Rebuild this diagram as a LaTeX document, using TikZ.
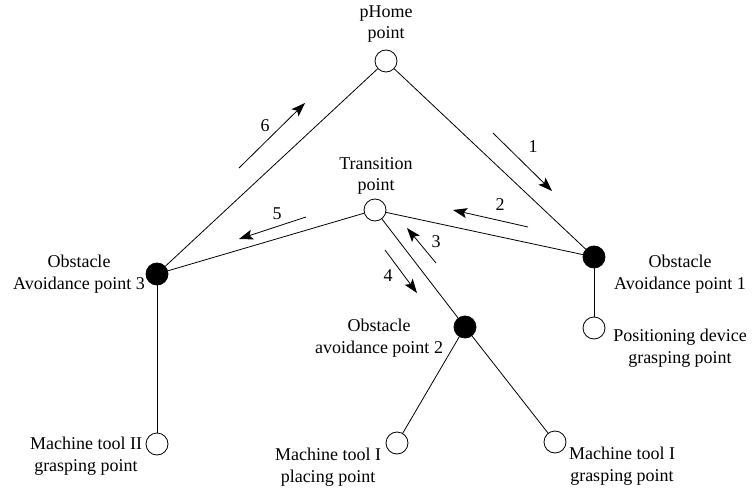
\documentclass[tikz,border=0pt]{standalone}
\usepackage{fontspec}
\setmainfont{Liberation Serif}
\usetikzlibrary{arrows.meta}

\begin{document}
\begin{tikzpicture}[x=1pt,y=-1pt,line width=0.8pt,
  pnt/.style={circle,draw,fill=white,minimum size=22pt,inner sep=0pt},
  obs/.style={pnt,fill=black},
  lbl/.style={align=center,font=\fontsize{18}{21.5}\selectfont},
  num/.style={font=\fontsize{18}{21.5}\selectfont},
  mv/.style={-{Stealth[length=14pt,width=10pt,inset=3pt]}}]
\useasboundingbox (0,0) rectangle (755,495);
% points
\node[pnt] (home) at (386,61) {};
\node[pnt] (trans) at (375,210) {};
\node[obs] (oa1) at (594,257) {};
\node[obs] (oa2) at (465,327) {};
\node[obs] (oa3) at (157,274) {};
\node[pnt] (posg) at (594,328) {};
\node[pnt] (mt2g) at (157,444) {};
\node[pnt] (mt1p) at (397,443) {};
\node[pnt] (mt1g) at (555,442) {};
% paths
\draw (home) -- (oa3);
\draw (home) -- (oa1);
\draw (trans) -- (oa3);
\draw (trans) -- (oa1);
\draw (trans) -- (oa2);
\draw (oa1) -- (posg);
\draw (oa3) -- (mt2g);
\draw (oa2) -- (mt1p);
\draw (oa2) -- (mt1g);
% labels
\node[lbl] (homel) at (386,24) {pHome\\point};
\node[lbl] (transl) at (376,176) {Transition\\point};
\node[lbl] (oa1l) at (680,274) {Obstacle\\Avoidance point 1};
\node[lbl] (posgl) at (680,348) {Positioning device\\grasping point};
\node[lbl] (oa3l) at (79,274) {Obstacle\\Avoidance point 3};
\node[lbl] (oa2l) at (379,338) {Obstacle\\avoidance point 2};
\node[lbl] (mt2gl) at (86,456) {Machine tool II\\grasping point};
\node[lbl] (mt1pl) at (328,467) {Machine tool I\\placing point};
\node[lbl] (mt1gl) at (622,466) {Machine tool I\\grasping point};
% motion order
\coordinate (m1a) at (493,133); \coordinate (m1b) at (552,191);
\coordinate (m2a) at (528,227); \coordinate (m2b) at (453,210);
\coordinate (m3a) at (436,263); \coordinate (m3b) at (407,228);
\coordinate (m4a) at (385,250); \coordinate (m4b) at (417,293);
\coordinate (m5a) at (306,217); \coordinate (m5b) at (239,239);
\coordinate (m6a) at (239,168); \coordinate (m6b) at (305,103);
\draw[mv] (m1a) -- (m1b);
\draw[mv] (m2a) -- (m2b);
\draw[mv] (m3a) -- (m3b);
\draw[mv] (m4a) -- (m4b);
\draw[mv] (m5a) -- (m5b);
\draw[mv] (m6a) -- (m6b);
\node[num] (n1) at (533,147) {1};
\node[num] (n2) at (500,205) {2};
\node[num] (n3) at (436,242) {3};
\node[num] (n4) at (388,276) {4};
\node[num] (n5) at (277,214) {5};
\node[num] (n6) at (265,126) {6};
\end{tikzpicture}
\end{document}
